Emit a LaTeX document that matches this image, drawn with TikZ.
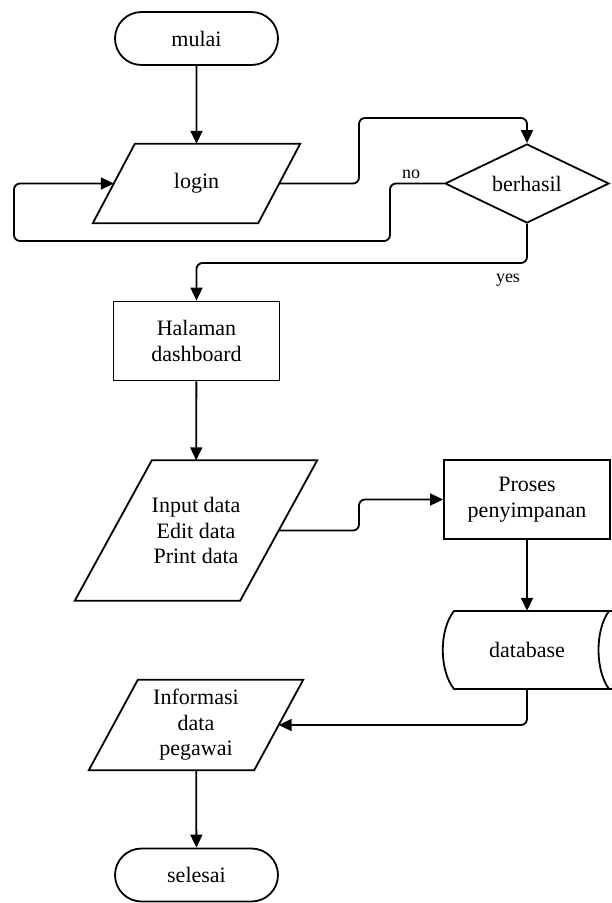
\documentclass[tikz,border=0pt]{standalone}
\usepackage{fontspec}
\setmainfont{Liberation Serif}
\usetikzlibrary{shapes.geometric, shapes.misc, arrows.meta}

\tikzset{
  shape line/.style={line width=1.8pt},
  base/.style={draw, shape line, align=center, inner sep=2pt,
    font=\fontsize{22}{25.5}\selectfont},
  terminal/.style={base, rounded rectangle, minimum width=167pt, minimum height=53pt},
  io/.style={align=center, inner sep=2pt, minimum width=165pt,
    font=\fontsize{22}{25.5}\selectfont},
  process/.style={base, rectangle, minimum width=166pt, minimum height=79pt},
  decision/.style={base, diamond, aspect=2, inner sep=0pt, minimum width=164pt, minimum height=79pt},
  store/.style={align=center, inner sep=0pt, minimum width=150pt, minimum height=78pt,
    font=\fontsize{22}{25.5}\selectfont},
  flow/.style={shape line, rounded corners=6pt, -{Triangle[length=13pt, width=12pt]}},
  lbl/.style={inner sep=0pt, font=\fontsize{18}{20}\selectfont},
}
% parallelogram round a node: name, half slant
\newcommand\paral[2]{\draw[shape line] ([xshift=#2]#1.north west) -- ([xshift=#2]#1.north east)
  -- ([xshift=-#2]#1.south east) -- ([xshift=-#2]#1.south west) -- cycle;}

\begin{document}
\begin{tikzpicture}[x=1pt, y=-1pt]
    \useasboundingbox (0, 0) rectangle (611, 903);
        \node[terminal] (mulai) at (196.5, 38.5) {mulai};
        \node[io, minimum height=79pt] (login) at (196.5, 183.5) {login};
        \paral{login}{21pt}
        \node[decision] (cek) at (527, 183.5) {berhasil};
        \node[process] (dash) at (196.5, 341) {Halaman\\dashboard};
        \node[io, minimum height=140pt] (input) at (196, 530.5) {Input data\\Edit data\\Print data};
        \paral{input}{38.5pt}
        \node[process] (simpan) at (527, 499.5) {Proses\\penyimpanan};
        \node[store] (db) at (527, 650) {database};
        \node[io, minimum height=90pt] (info) at (196, 725) {Informasi\\data\\pegawai};
        \paral{info}{24.5pt}
        \node[terminal] (selesai) at (196.5, 875) {selesai};
        % database outline
        \draw[shape line] (620, 611) -- (454, 611) .. controls (439, 630) and (439, 670) .. (454, 689) -- (620, 689);
        \draw[shape line] (609, 611) .. controls (595, 630) and (595, 670) .. (609, 689);
        \node[lbl] (no) at (411, 174) {no};
        \node[lbl] (yes) at (508, 280) {yes};
        \draw[flow] (mulai) -- (login);
        \draw[flow] (login) -- (359, 183.5) -- (359, 118) -| (cek);
        \draw[flow] (cek) -- (390, 183.5) -- (390, 241) -- (14, 241) -- (14, 183.5) -- (login);
        \draw[flow] (cek) -- (527, 263) -| (dash);
        \draw[flow] (dash) -- (input);
        \draw[flow] (input) -- (359, 530.5) -- (359, 499.5) -- (simpan);
        \draw[flow] (simpan) -- (db);
        \draw[flow] (db) |- (info);
        \draw[flow] (info) -- (selesai);
    \end{tikzpicture}
\end{document}
